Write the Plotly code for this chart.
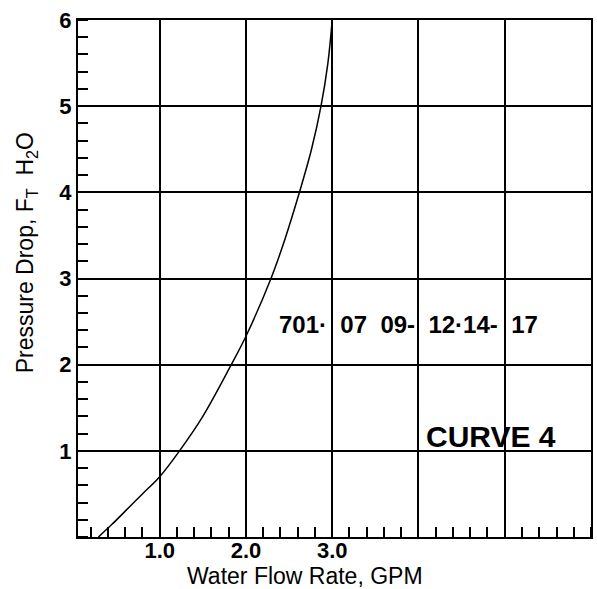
import plotly.graph_objects as go

# Curve (Water Flow Rate GPM vs Pressure Drop ft H2O)
flow_gpm = [0.29, 0.45, 0.60, 0.80, 1.00, 1.23, 1.50, 1.83, 2.00, 2.29, 2.45, 2.62, 2.76, 2.87, 2.95, 3.00]
pressure_ft = [0.00, 0.15, 0.30, 0.50, 0.70, 1.00, 1.40, 2.00, 2.33, 3.00, 3.45, 4.00, 4.50, 5.00, 5.50, 6.00]

x_tickvals = [1, 2, 3, 4, 5, 6]
x_ticktext = ["1.0", "2.0", "3.0", "", "", ""]
y_tickvals = [1, 2, 3, 4, 5, 6]
y_ticktext = ["1", "2", "3", "4", "5", "6"]

model_text = "701·\u00a0\u00a007\u00a0\u00a009-\u00a0\u00a012·14-\u00a0\u00a017"
curve_label = "CURVE 4"
x_title = "Water Flow Rate, GPM"
y_title = "Pressure Drop, F<sub>T</sub>\u00a0\u00a0H<sub>2</sub>O"

FONT = "Liberation Sans, Arial, sans-serif"

fig = go.Figure()
fig.add_trace(go.Scatter(
    x=flow_gpm, y=pressure_ft, mode="lines",
    line=dict(color="black", width=1.5, shape="spline", smoothing=1.0),
    showlegend=False, hoverinfo="skip"))

axis_common = dict(
    showline=True, linecolor="black", linewidth=2, mirror=True,
    showgrid=True, gridcolor="black", gridwidth=1.5,
    zeroline=False, ticks="",
    tickfont=dict(family=FONT, size=22, color="black", weight="bold"),
    minor=dict(dtick=0.2, tick0=0, ticks="inside", ticklen=10,
               tickwidth=1.5, tickcolor="black", showgrid=False),
)

fig.update_xaxes(range=[0.053, 6.0], tickmode="array", tickvals=x_tickvals,
                 ticktext=x_ticktext, ticklabelstandoff=-7, **axis_common)
fig.update_yaxes(range=[0, 6], tickmode="array", tickvals=y_tickvals,
                 ticktext=y_ticktext, **axis_common)

fig.add_annotation(x=2.36, y=2.47, xref="x", yref="y", text=model_text,
                   showarrow=False, xanchor="left", yanchor="middle",
                   font=dict(family=FONT, size=24, color="black", weight="bold"))
fig.add_annotation(x=4.06, y=1.17, xref="x", yref="y", text=curve_label,
                   showarrow=False, xanchor="left", yanchor="middle",
                   font=dict(family=FONT, size=30, color="black", weight="bold"))
fig.add_annotation(x=0.443, y=-0.075, xref="paper", yref="paper", text=x_title,
                   showarrow=False, xanchor="center", yanchor="middle",
                   font=dict(family=FONT, size=23, color="black"))
fig.add_annotation(x=-0.101, y=0.549, xref="paper", yref="paper", text=y_title,
                   showarrow=False, xanchor="center", yanchor="middle", textangle=-90,
                   font=dict(family=FONT, size=23, color="black"))

fig.update_layout(
    width=597, height=589,
    margin=dict(l=78, r=4, t=20, b=52),
    paper_bgcolor="white", plot_bgcolor="white",
    showlegend=False,
)

fig.write_html("out.html")
